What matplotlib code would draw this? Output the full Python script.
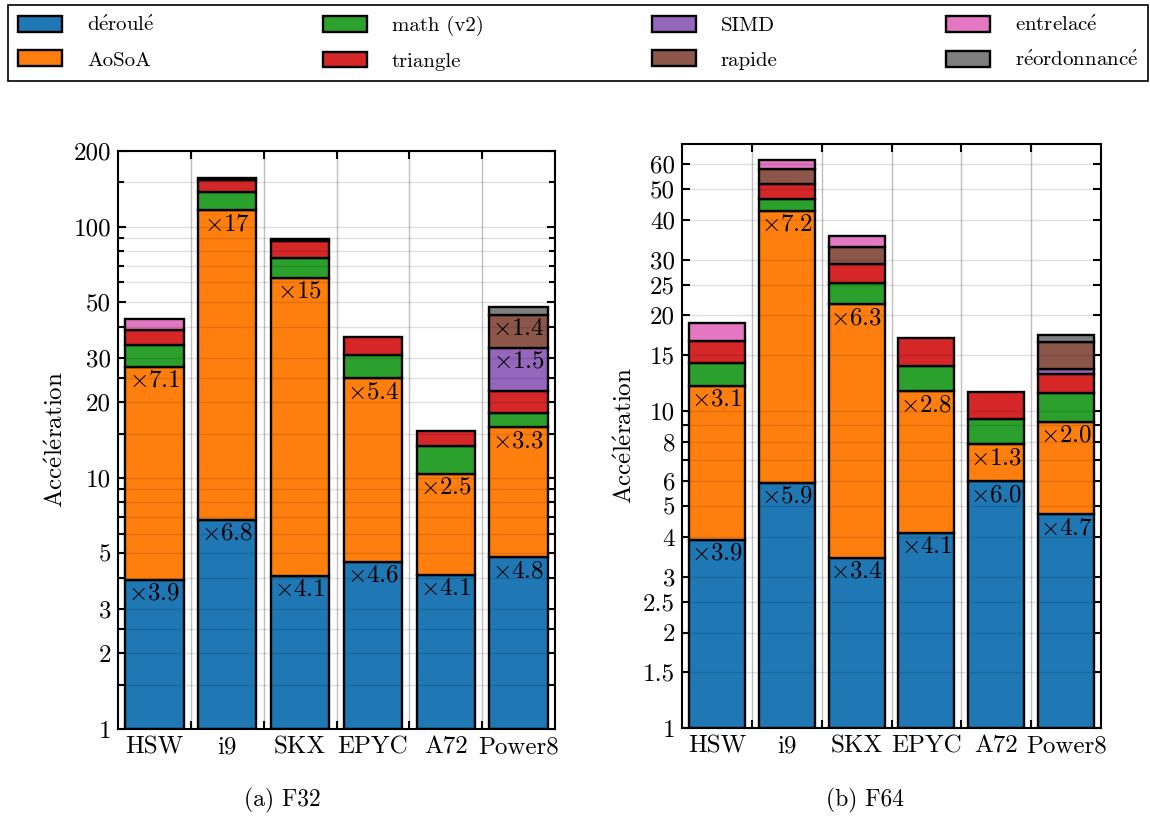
import numpy as np
import matplotlib
matplotlib.use('Agg')
import matplotlib.pyplot as plt
from matplotlib.patches import Patch
from matplotlib.ticker import FixedLocator, FixedFormatter, NullFormatter

plt.rcParams['font.family'] = ['cmr10', 'DejaVu Serif']
plt.rcParams['mathtext.fontset'] = 'cm'
plt.rcParams['axes.unicode_minus'] = False

machines = ['HSW', 'i9', 'SKX', 'EPYC', 'A72', 'Power8']
versions = ['déroulé', 'AoSoA', 'math (v2)', 'triangle', 'SIMD', 'rapide',
            'entrelacé', 'réordonnancé']
colors = ['#1f77b4', '#ff7f0e', '#2ca02c', '#d62728', '#9467bd', '#8c564b',
          '#e377c2', '#7f7f7f']

# gain de chaque version sur la précédente (1.0 = version absente)
f32_deroule = [3.92, 6.8, 4.07, 4.64, 4.11, 4.83]
f32_aosoa = [7.07, 17.06, 15.4, 5.37, 2.53, 3.29]
f32_math = [1.224, 1.185, 1.202, 1.241, 1.288, 1.138]
f32_triangle = [1.147, 1.119, 1.166, 1.178, 1.149, 1.227]
f32_simd = [1.0, 1.0, 1.0, 1.0, 1.0, 1.482]
f32_rapide = [1.0, 1.0, 1.0, 1.0, 1.0, 1.356]
f32_entrelace = [1.103, 1.015, 1.02, 1.0, 1.0, 1.0]
f32_reord = [1.0, 1.0, 1.0, 1.0, 1.0, 1.07]

f64_deroule = [3.92, 5.94, 3.44, 4.13, 5.99, 4.72]
f64_aosoa = [3.06, 7.18, 6.3, 2.79, 1.31, 1.96]
f64_math = [1.184, 1.093, 1.166, 1.202, 1.197, 1.226]
f64_triangle = [1.165, 1.115, 1.146, 1.223, 1.221, 1.156]
f64_simd = [1.0, 1.0, 1.0, 1.0, 1.0, 1.032]
f64_rapide = [1.0, 1.115, 1.131, 1.0, 1.0, 1.218]
f64_entrelace = [1.14, 1.067, 1.088, 1.0, 1.0, 1.0]
f64_reord = [1.0, 1.0, 1.0, 1.0, 1.0, 1.053]

f32 = [f32_deroule, f32_aosoa, f32_math, f32_triangle, f32_simd, f32_rapide,
       f32_entrelace, f32_reord]
f64 = [f64_deroule, f64_aosoa, f64_math, f64_triangle, f64_simd, f64_rapide,
       f64_entrelace, f64_reord]

f32_ticks = [1, 2, 3, 5, 10, 20, 30, 50, 100, 200]
f32_minor = [1.5, 2.5, 4, 6, 7, 8, 9, 15, 25, 40, 60, 70, 80, 90, 150]
f64_ticks = [1, 1.5, 2, 2.5, 3, 4, 5, 6, 8, 10, 15, 20, 25, 30, 40, 50, 60]
f64_minor = [7, 9]

FS = 18


def acc(s):
    # cmr10 n'a pas de é : on passe par l'accent de mathtext
    return s.replace('é', r'$\mathrm{\acute{e}}$')


def draw(ax, data, ymax, ticks, minor):
    x = np.arange(len(machines))
    bottom = np.ones(len(machines))
    for k, gains in enumerate(data):
        gains = np.array(gains)
        top = bottom * gains
        for i in range(len(machines)):
            if gains[i] <= 1.0:
                continue
            ax.bar(x[i], top[i] - bottom[i], 0.8, bottom=bottom[i],
                   color=colors[k], edgecolor='black', linewidth=1.7, zorder=2)
            if gains[i] >= 1.3:
                txt = r'$\times$' + ('%d' % round(gains[i]) if gains[i] >= 10
                                     else '%.1f' % gains[i])
                ax.annotate(txt, (x[i], top[i]), xytext=(0, -2),
                            textcoords='offset points', ha='center', va='top',
                            fontsize=FS, zorder=4)
        bottom = top
    ax.set_yscale('log')
    ax.set_ylim(1, ymax)
    ax.set_xlim(-0.5, len(machines) - 0.5)
    ax.yaxis.set_major_locator(FixedLocator(ticks))
    ax.yaxis.set_major_formatter(FixedFormatter(['%g' % t for t in ticks]))
    ax.yaxis.set_minor_locator(FixedLocator(minor))
    ax.yaxis.set_minor_formatter(NullFormatter())
    ax.xaxis.set_major_locator(FixedLocator(np.arange(len(machines) - 1) + 0.5))
    ax.xaxis.set_major_formatter(NullFormatter())
    ax.xaxis.set_minor_locator(FixedLocator(x))
    ax.xaxis.set_minor_formatter(FixedFormatter(machines))
    ax.tick_params(axis='x', which='minor', length=0, labelsize=FS, pad=5)
    ax.tick_params(axis='x', which='major', direction='in', length=6, width=1.5,
                   top=True, bottom=True)
    ax.tick_params(axis='y', which='both', direction='in', left=True, right=True,
                   width=1.5, labelsize=FS, pad=5)
    ax.tick_params(axis='y', which='major', length=6)
    ax.tick_params(axis='y', which='minor', length=4)
    ax.set_axisbelow(False)
    ax.yaxis.grid(True, which='both', color='black', alpha=0.12, linewidth=1.0, zorder=3)
    ax.xaxis.grid(True, which='major', color='black', alpha=0.25, linewidth=1.0, zorder=1)
    ax.xaxis.grid(False, which='minor')
    for s in ax.spines.values():
        s.set_linewidth(1.5)
        s.set_zorder(5)
    ax.set_ylabel(acc('Accélération'), fontsize=FS, labelpad=4)


fig = plt.figure(figsize=(11.5, 8.19), dpi=100)
ax1 = fig.add_axes([118 / 1150, 1 - 729 / 819, 437 / 1150, 578 / 819])
ax2 = fig.add_axes([682 / 1150, 1 - 728 / 819, 419 / 1150, 584 / 819])
draw(ax1, f32, 200, f32_ticks, f32_minor)
draw(ax2, f64, 69.4, f64_ticks, f64_minor)

fig.text(282 / 1150, 1 - 800 / 819, '(a) F32', ha='center', va='center', fontsize=17)
fig.text(865 / 1150, 1 - 800 / 819, '(b) F64', ha='center', va='center', fontsize=17)

handles = [Patch(facecolor=c, edgecolor='black', linewidth=1.7) for c in colors]
leg = fig.legend(handles, [acc(v) for v in versions],
                 loc='upper left', bbox_to_anchor=(8 / 1150, 1 - 80 / 819, 1140 / 1150, 75 / 819),
                 mode='expand', ncol=4, fontsize=15, fancybox=False,
                 handlelength=2.1, handleheight=0.8, handletextpad=1.2,
                 labelspacing=0.75, borderpad=0.5, borderaxespad=0,
                 edgecolor='black', framealpha=1)
leg.get_frame().set_linewidth(1.2)

fig.savefig('out.png', dpi=100)
